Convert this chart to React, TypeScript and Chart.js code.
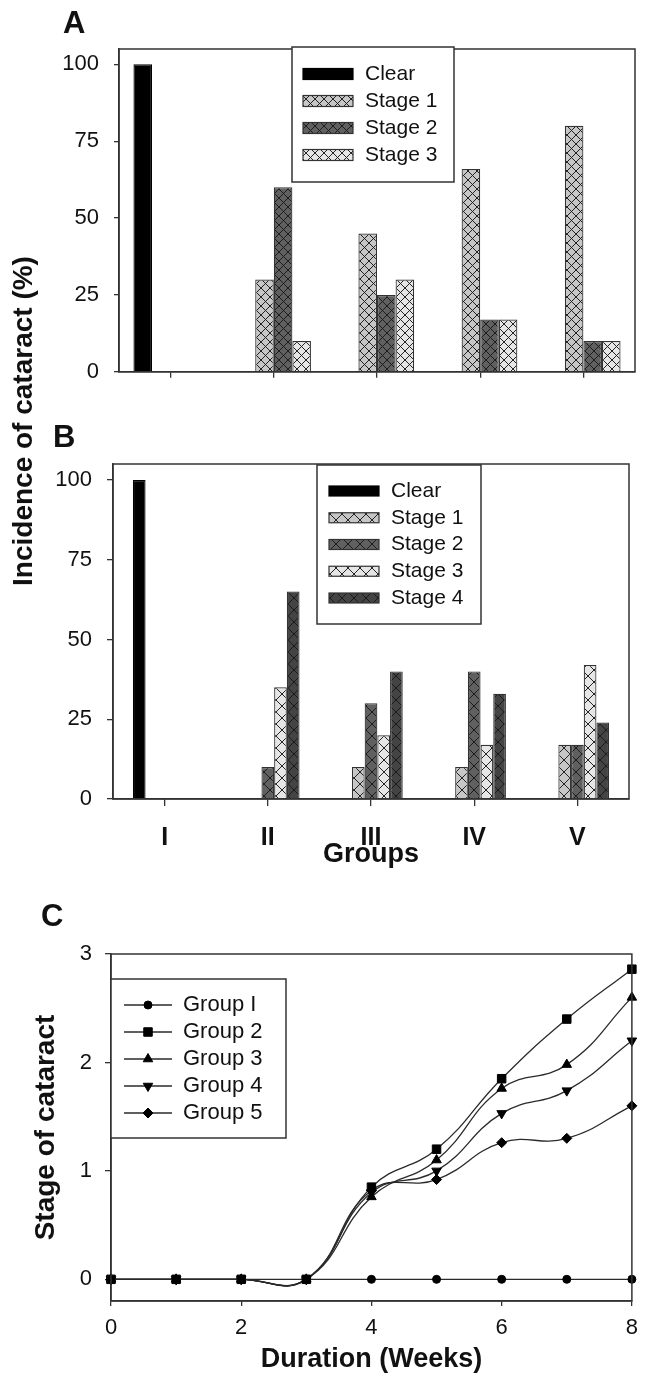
import React, { useEffect, useRef } from "react";
import { Chart, registerables } from "chart.js";

Chart.register(...registerables);

const FONT = "'Liberation Sans', Arial, Helvetica, sans-serif";
Chart.defaults.font.family = FONT;
Chart.defaults.color = "#111";

// ---------- Panel A data ----------
const groupsA = ["I", "II", "III", "IV", "V"];
const clearA = [100, 0, 0, 0, 0];
const stage1A = [0, 30, 45, 66, 80];
const stage2A = [0, 60, 25, 17, 10];
const stage3A = [0, 10, 30, 17, 10];

// ---------- Panel B data ----------
const groupsB = ["I", "II", "III", "IV", "V"];
const clearB = [100, 0, 0, 0, 0];
const stage1B = [0, 0, 10, 10, 17];
const stage2B = [0, 10, 30, 40, 17];
const stage3B = [0, 35, 20, 17, 42];
const stage4B = [0, 65, 40, 33, 24];

const percentTicks = [0, 25, 50, 75, 100];

// ---------- Panel C data ----------
const weeks = [0, 1, 2, 3, 4, 5, 6, 7, 8];
const group1 = [0, 0, 0, 0, 0, 0, 0, 0, 0];
const group2 = [0, 0, 0, 0, 0.85, 1.2, 1.85, 2.4, 2.86];
const group3 = [0, 0, 0, 0, 0.76, 1.1, 1.76, 1.98, 2.6];
const group4 = [0, 0, 0, 0, 0.8, 1.0, 1.53, 1.74, 2.2];
const group5 = [0, 0, 0, 0, 0.82, 0.92, 1.26, 1.3, 1.6];
const weekTicks = [0, 2, 4, 6, 8];
const stageTicks = [0, 1, 2, 3];

const EDGE = "#333";

function hatch(base: string, size: number): CanvasPattern | string {
  const c = document.createElement("canvas");
  c.width = size;
  c.height = size;
  const g = c.getContext("2d");
  if (!g) return base;
  g.fillStyle = base;
  g.fillRect(0, 0, size, size);
  g.strokeStyle = "rgba(25,25,25,0.95)";
  g.lineWidth = 1;
  g.beginPath();
  for (let k = -1; k <= 1; k++) {
    g.moveTo(k * size, 0);
    g.lineTo(k * size + size, size);
    g.moveTo(k * size, size);
    g.lineTo(k * size + size, 0);
  }
  g.stroke();
  const p = g.createPattern(c, "repeat");
  return p || base;
}

function drawMarker(
  ctx: CanvasRenderingContext2D,
  style: string,
  rotation: number,
  r: number,
  x: number,
  y: number
) {
  ctx.beginPath();
  let rad = (rotation * Math.PI) / 180;
  if (style === "circle") {
    ctx.arc(x, y, r, 0, Math.PI * 2);
  } else if (style === "rect") {
    const s = Math.SQRT1_2 * r;
    ctx.rect(x - s, y - s, 2 * s, 2 * s);
  } else if (style === "triangle") {
    for (let k = 0; k < 3; k++) {
      const px = x + Math.sin(rad) * r;
      const py = y - Math.cos(rad) * r;
      if (k === 0) ctx.moveTo(px, py);
      else ctx.lineTo(px, py);
      rad += (2 * Math.PI) / 3;
    }
    ctx.closePath();
  } else if (style === "rectRot") {
    ctx.moveTo(x - r, y);
    ctx.lineTo(x, y - r);
    ctx.lineTo(x + r, y);
    ctx.lineTo(x, y + r);
    ctx.closePath();
  }
  ctx.fill();
  ctx.stroke();
}

type LegendCfg = {
  box: [number, number, number, number];
  startY: number;
  step: number;
  kind: "swatch" | "line";
  sx: number;
  sw: number;
  sh: number;
  tx: number;
  fontSize: number;
};

function framePlugin(legend: LegendCfg) {
  return {
    id: "frameAndLegend",
    afterDraw(chart: any) {
      const ctx: CanvasRenderingContext2D = chart.ctx;
      const a = chart.chartArea;
      ctx.save();
      ctx.strokeStyle = EDGE;
      ctx.lineWidth = 1.5;
      ctx.strokeRect(a.left, a.top, a.right - a.left, a.bottom - a.top);

      const [bx, by, bw, bh] = legend.box;
      ctx.fillStyle = "#fff";
      ctx.fillRect(bx, by, bw, bh);
      ctx.strokeRect(bx, by, bw, bh);

      chart.data.datasets.forEach((ds: any, i: number) => {
        const y = legend.startY + i * legend.step;
        if (legend.kind === "swatch") {
          ctx.fillStyle = ds.backgroundColor;
          ctx.fillRect(legend.sx, y - legend.sh / 2, legend.sw, legend.sh);
          ctx.strokeStyle = ds.borderColor || EDGE;
          ctx.lineWidth = 1.2;
          ctx.strokeRect(legend.sx, y - legend.sh / 2, legend.sw, legend.sh);
        } else {
          ctx.strokeStyle = ds.borderColor;
          ctx.lineWidth = ds.borderWidth;
          ctx.beginPath();
          ctx.moveTo(legend.sx, y);
          ctx.lineTo(legend.sx + legend.sw, y);
          ctx.stroke();
          ctx.fillStyle = ds.pointBackgroundColor;
          ctx.strokeStyle = ds.pointBorderColor;
          ctx.lineWidth = 1;
          drawMarker(
            ctx,
            ds.pointStyle,
            ds.pointRotation || 0,
            ds.pointRadius,
            legend.sx + legend.sw / 2,
            y
          );
        }
        ctx.fillStyle = "#111";
        ctx.font = `${legend.fontSize}px ${FONT}`;
        ctx.textAlign = "left";
        ctx.textBaseline = "middle";
        ctx.fillText(ds.label, legend.tx, y);
      });
      ctx.restore();
    },
  };
}

const axisGrid = (len: number) => ({
  drawOnChartArea: false,
  drawTicks: true,
  tickLength: len,
  color: EDGE,
  lineWidth: 1.3,
  offset: false,
});
const axisBorder = { display: true, color: EDGE, width: 1.5 };

function configA(): any {
  return {
    type: "bar",
    data: {
      labels: groupsA,
      datasets: [
        { label: "Clear", data: clearA, backgroundColor: "#000", borderColor: "#000" },
        { label: "Stage 1", data: stage1A, backgroundColor: hatch("#c6c6c6", 9), borderColor: EDGE },
        { label: "Stage 2", data: stage2A, backgroundColor: hatch("#606060", 9), borderColor: EDGE },
        { label: "Stage 3", data: stage3A, backgroundColor: hatch("#e6e6e6", 9), borderColor: EDGE },
      ],
    },
    options: {
      animation: false,
      responsive: false,
      layout: { padding: { top: 49, right: 12, left: 0, bottom: 0 } },
      datasets: {
        bar: {
          categoryPercentage: 0.72,
          barPercentage: 1,
          borderWidth: 1.2,
          borderSkipped: "start",
        },
      },
      plugins: { legend: { display: false }, tooltip: { enabled: false } },
      scales: {
        x: {
          grid: axisGrid(6),
          border: axisBorder,
          ticks: { display: false },
          afterFit: (s: any) => {
            s.height = 17;
          },
        },
        y: {
          min: 0,
          max: 105,
          grid: axisGrid(5),
          border: axisBorder,
          ticks: { font: { size: 22 }, padding: 15, color: "#111" },
          afterBuildTicks: (s: any) => {
            s.ticks = percentTicks.map((v) => ({ value: v }));
          },
          afterFit: (s: any) => {
            s.width = 119;
          },
        },
      },
    },
    plugins: [
      framePlugin({
        box: [292, 47, 162, 135],
        startY: 74,
        step: 27,
        kind: "swatch",
        sx: 303,
        sw: 50,
        sh: 11,
        tx: 365,
        fontSize: 21,
      }),
    ],
  };
}

function configB(): any {
  return {
    type: "bar",
    data: {
      labels: groupsB,
      datasets: [
        { label: "Clear", data: clearB, backgroundColor: "#000", borderColor: "#000" },
        { label: "Stage 1", data: stage1B, backgroundColor: hatch("#c6c6c6", 12), borderColor: EDGE },
        { label: "Stage 2", data: stage2B, backgroundColor: hatch("#606060", 12), borderColor: EDGE },
        { label: "Stage 3", data: stage3B, backgroundColor: hatch("#e6e6e6", 12), borderColor: EDGE },
        { label: "Stage 4", data: stage4B, backgroundColor: hatch("#444444", 12), borderColor: EDGE },
      ],
    },
    options: {
      animation: false,
      responsive: false,
      layout: { padding: { top: 64, right: 18, left: 0, bottom: 0 } },
      datasets: {
        bar: {
          categoryPercentage: 0.615,
          barPercentage: 1,
          borderWidth: 1.2,
          borderSkipped: "start",
        },
      },
      plugins: { legend: { display: false }, tooltip: { enabled: false } },
      scales: {
        x: {
          grid: axisGrid(7),
          border: axisBorder,
          ticks: { font: { size: 25, weight: "bold" }, padding: 17, color: "#111", maxRotation: 0 },
          title: {
            display: true,
            text: "Groups",
            font: { size: 27, weight: "bold" },
            color: "#111",
            padding: { top: 0, bottom: 9 },
          },
          afterFit: (s: any) => {
            s.height = 81;
          },
        },
        y: {
          min: 0,
          max: 105,
          grid: axisGrid(6),
          border: axisBorder,
          ticks: { font: { size: 22 }, padding: 15, color: "#111" },
          afterBuildTicks: (s: any) => {
            s.ticks = percentTicks.map((v) => ({ value: v }));
          },
          afterFit: (s: any) => {
            s.width = 113;
          },
        },
      },
    },
    plugins: [
      framePlugin({
        box: [317, 65, 164, 159],
        startY: 91,
        step: 26.75,
        kind: "swatch",
        sx: 329,
        sw: 50,
        sh: 10,
        tx: 391,
        fontSize: 21,
      }),
    ],
  };
}

function lineSet(label: string, values: number[], style: string, radius: number, rotation = 0) {
  return {
    label,
    data: weeks.map((w, i) => ({ x: w, y: values[i] })),
    borderColor: "#2a2a2a",
    borderWidth: 1.3,
    backgroundColor: "#000",
    pointBackgroundColor: "#000",
    pointBorderColor: "#000",
    pointBorderWidth: 1,
    pointStyle: style,
    pointRadius: radius,
    pointRotation: rotation,
    tension: 0.45,
    fill: false,
    clip: false,
  };
}

function configC(): any {
  return {
    type: "line",
    data: {
      datasets: [
        lineSet("Group I", group1, "circle", 4),
        lineSet("Group 2", group2, "rect", 6),
        lineSet("Group 3", group3, "triangle", 5.5),
        lineSet("Group 4", group4, "triangle", 5.5, 180),
        lineSet("Group 5", group5, "rectRot", 5),
      ],
    },
    options: {
      animation: false,
      responsive: false,
      layout: { padding: { top: 74, right: 8, left: 0, bottom: 0 } },
      plugins: { legend: { display: false }, tooltip: { enabled: false } },
      scales: {
        x: {
          type: "linear",
          min: 0,
          max: 8,
          grid: axisGrid(5),
          border: axisBorder,
          ticks: { font: { size: 22 }, padding: 9, color: "#111" },
          afterBuildTicks: (s: any) => {
            s.ticks = weekTicks.map((v) => ({ value: v }));
          },
          title: {
            display: true,
            text: "Duration (Weeks)",
            font: { size: 27, weight: "bold" },
            color: "#111",
            padding: { top: 0, bottom: 1 },
          },
          afterFit: (s: any) => {
            s.height = 76;
          },
        },
        y: {
          type: "linear",
          min: -0.2,
          max: 3,
          grid: axisGrid(6),
          border: axisBorder,
          ticks: { font: { size: 22 }, padding: 13, color: "#111" },
          afterBuildTicks: (s: any) => {
            s.ticks = stageTicks.map((v) => ({ value: v }));
          },
          title: {
            display: true,
            text: "Stage of cataract",
            font: { size: 28, weight: "bold" },
            color: "#111",
            padding: { top: 29, bottom: 0 },
          },
          afterFit: (s: any) => {
            s.width = 111;
          },
        },
      },
    },
    plugins: [
      framePlugin({
        box: [111, 99, 175, 159],
        startY: 125,
        step: 27,
        kind: "line",
        sx: 124,
        sw: 48,
        sh: 0,
        tx: 183,
        fontSize: 22,
      }),
    ],
  };
}

function Panel({ make, top, height }: { make: () => any; top: number; height: number }) {
  const ref = useRef<HTMLCanvasElement>(null);
  useEffect(() => {
    if (!ref.current) return;
    const chart = new Chart(ref.current, make());
    return () => chart.destroy();
  }, []);
  return (
    <div style={{ position: "absolute", left: 0, top, width: 647, height }}>
      <canvas ref={ref} width={647} height={height} style={{ display: "block" }} />
    </div>
  );
}

const letterStyle = (left: number, top: number): React.CSSProperties => ({
  position: "absolute",
  left,
  top,
  fontFamily: FONT,
  fontWeight: "bold",
  fontSize: 31,
  lineHeight: "31px",
  color: "#111",
  margin: 0,
});

export default function App() {
  return (
    <div
      style={{
        position: "absolute",
        left: 0,
        top: 0,
        width: 647,
        height: 1377,
        background: "#fff",
        overflow: "hidden",
      }}
    >
      <Panel make={configA} top={0} height={400} />
      <Panel make={configB} top={400} height={480} />
      <Panel make={configC} top={880} height={497} />
      <div style={letterStyle(63, 7)}>A</div>
      <div style={letterStyle(53, 421)}>B</div>
      <div style={letterStyle(41, 900)}>C</div>
      <div
        style={{
          position: "absolute",
          left: 23.3 - 200,
          top: 420.5 - 16,
          width: 400,
          height: 32,
          lineHeight: "32px",
          textAlign: "center",
          transform: "rotate(-90deg)",
          fontFamily: FONT,
          fontWeight: "bold",
          fontSize: 28,
          color: "#111",
          whiteSpace: "nowrap",
        }}
      >
        Incidence of cataract (%)
      </div>
    </div>
  );
}
